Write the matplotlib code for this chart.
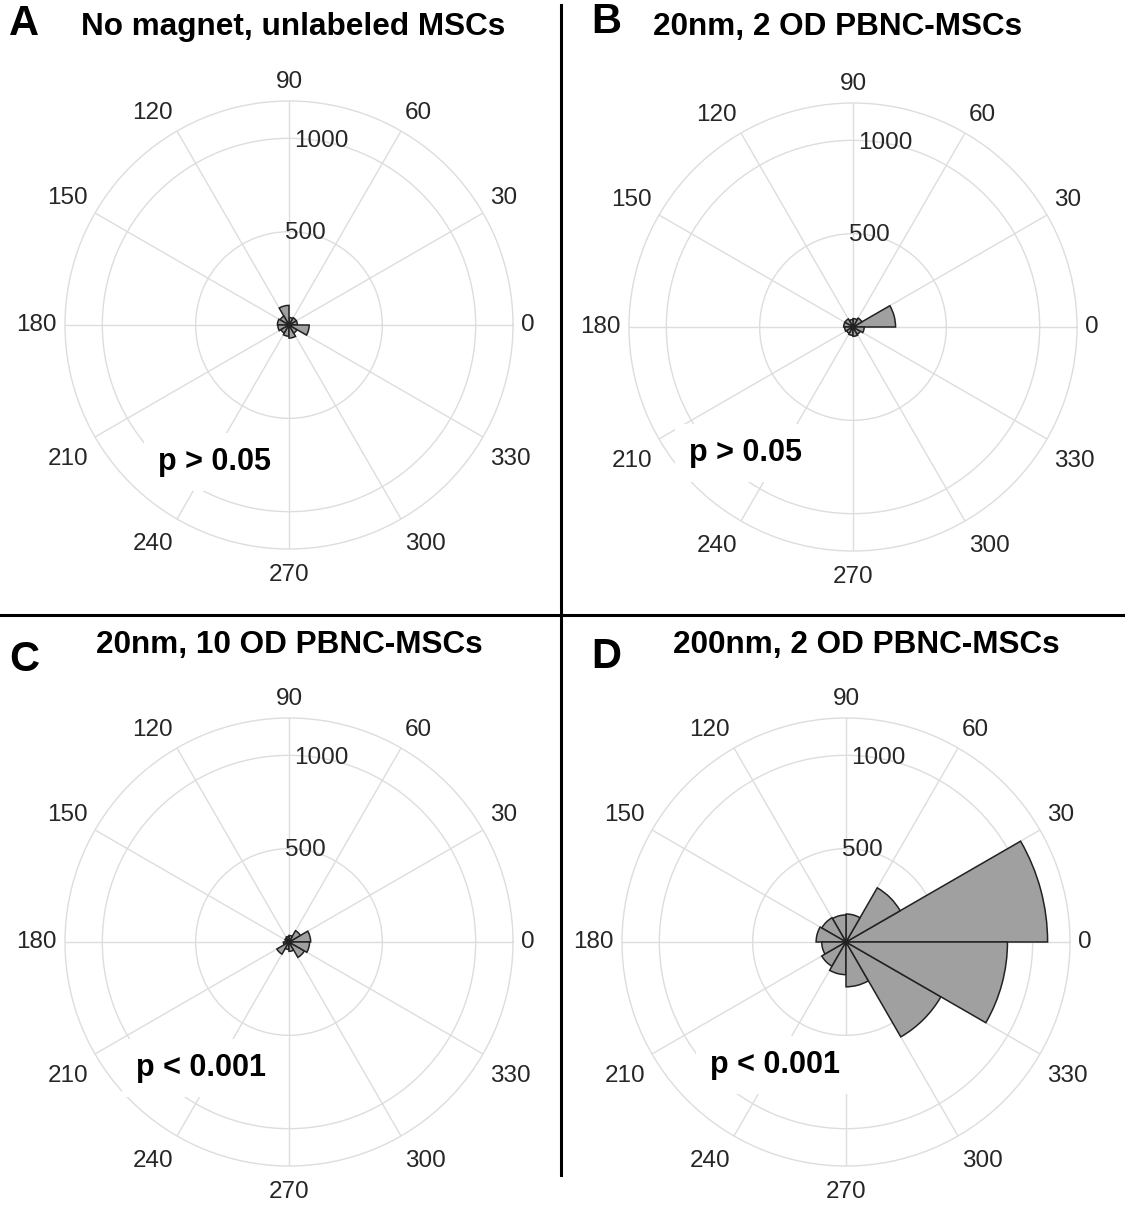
import numpy as np
import matplotlib
matplotlib.use("Agg")
import matplotlib.pyplot as plt

plt.rcParams['font.family'] = ['Liberation Sans', 'DejaVu Sans']

# bin counts, bins of 30 deg starting at 0 (0-30, 30-60, ... 330-360)
bin_edges_deg = np.arange(0, 360, 30)
counts_a = [45, 45, 40, 105, 55, 62, 60, 50, 60, 70, 50, 108]
counts_b = [228, 55, 45, 40, 50, 50, 45, 40, 45, 50, 45, 60]
counts_c = [116, 70, 35, 30, 25, 20, 30, 75, 40, 50, 95, 110]
counts_d = [1080, 335, 150, 145, 150, 160, 130, 150, 175, 240, 587, 865]

titles = ["No magnet, unlabeled MSCs", "20nm, 2 OD PBNC-MSCs",
          "20nm, 10 OD PBNC-MSCs", "200nm, 2 OD PBNC-MSCs"]
letters = ["A", "B", "C", "D"]
pvals = ["p > 0.05", "p > 0.05", "p < 0.001", "p < 0.001"]
angle_labels = [str(a) for a in bin_edges_deg]
r_ticks = [500, 1000]
r_max = 1200

W, H = 1125, 1205
fig = plt.figure(figsize=(W / 100, H / 100), dpi=100)

R = 224
centers = [(289, 325), (853, 327), (289, 942), (846, 942)]
title_pos = [(293, 27), (838, 27), (289, 645), (866, 645)]
letter_pos = [(24, 24), (606, 22), (24, 660), (606, 657)]
ptext_pos = [(0.333, 0.194), (0.259, 0.219), (0.304, 0.219), (0.342, 0.225)]

all_counts = [counts_a, counts_b, counts_c, counts_d]


def side_align(c, s):
    ha = 'left' if c > 0.01 else ('right' if c < -0.01 else 'center')
    va = 'bottom' if s > 0.01 else ('top' if s < -0.01 else 'center')
    return ha, va


for i in range(4):
    cx, cy = centers[i]
    rect = [(cx - R) / W, 1 - (cy + R) / H, 2 * R / W, 2 * R / H]
    ax = fig.add_axes(rect, projection='polar')
    theta = np.deg2rad(bin_edges_deg)
    ax.bar(theta, all_counts[i], width=np.deg2rad(30), align='edge',
           color='#a0a0a0', edgecolor='#222222', linewidth=1.1, zorder=3)
    ax.set_ylim(0, r_max)
    ax.set_yticks(r_ticks)
    ax.set_yticklabels([])
    ax.set_thetagrids(bin_edges_deg, labels=[''] * len(bin_edges_deg))

    # angle labels anchored just outside the circle, aligned away from it
    for th, lab in zip(theta, angle_labels):
        ha, va = side_align(np.cos(th), np.sin(th))
        dy = -5 if va == 'top' else 0   # lower labels sit a bit lower
        ax.annotate(lab, xy=(th, 232 / R * r_max), xytext=(0, dy),
                    textcoords='offset points', ha=ha, va=va,
                    fontsize=17.5, color='#262626', annotation_clip=False)

    ax.grid(True, color='#dddddd', linewidth=1)
    ax.spines['polar'].set_color('#dddddd')
    ax.spines['polar'].set_linewidth(1)
    for r in r_ticks:
        ax.text(np.deg2rad(80), r, str(r), ha='center', va='center',
                fontsize=17.5, color='#262626', zorder=4)
    ax.text(ptext_pos[i][0], ptext_pos[i][1], pvals[i], transform=ax.transAxes,
            ha='center', va='center', fontsize=22, fontweight='bold', zorder=5,
            bbox=dict(facecolor='white', edgecolor='none', pad=10))

    tx, ty = title_pos[i]
    fig.text(tx / W, 1 - ty / H, titles[i], ha='center', va='center',
             fontsize=22.7, fontweight='bold')
    lx, ly = letter_pos[i]
    fig.text(lx / W, 1 - ly / H, letters[i], ha='center', va='center',
             fontsize=30, fontweight='bold')

# panel dividers
fig.add_artist(plt.Line2D([561 / W, 561 / W], [1 - 5 / H, 1 - 1175 / H],
                          color='black', linewidth=2.2))
fig.add_artist(plt.Line2D([0, 1], [1 - 615 / H, 1 - 615 / H],
                          color='black', linewidth=2.2))

fig.savefig("out.png", dpi=100, facecolor='white')
